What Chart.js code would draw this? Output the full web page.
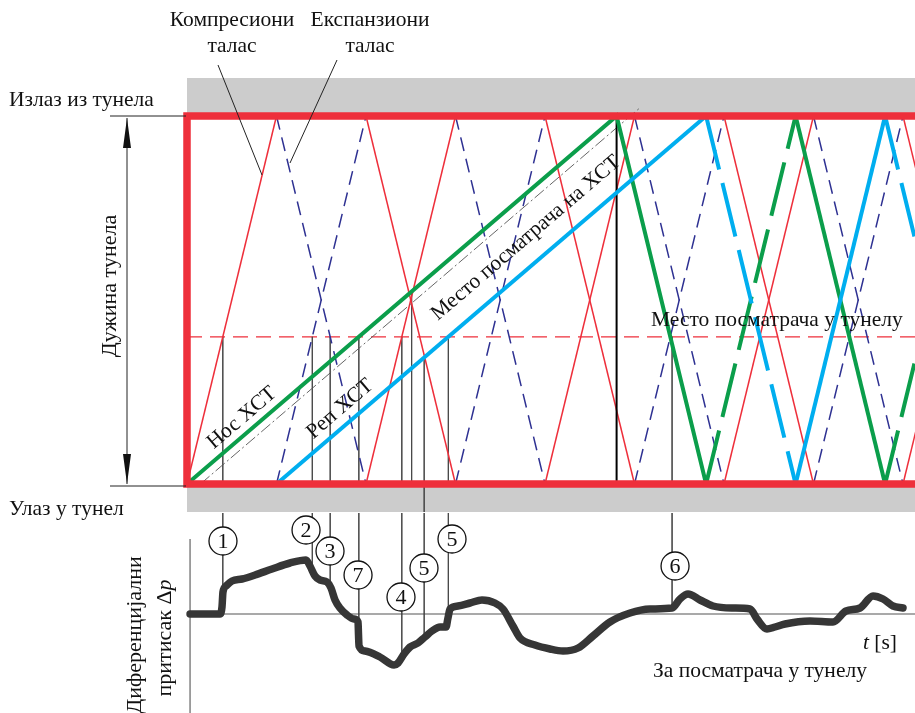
<!DOCTYPE html>
<html>
<head>
<meta charset="utf-8">
<script src="https://cdn.jsdelivr.net/npm/chart.js@4.4.1/dist/chart.umd.min.js"></script>
<style>
  html, body { margin: 0; padding: 0; background: #fff; }
  canvas { display: block; }
</style>
</head>
<body>
<canvas id="waveChart" width="915" height="713"></canvas>
<script>
// =====================================================
//  Wave diagram in a tunnel + pressure at an observer
//  time in units of L/c, position as fraction of tunnel length
// =====================================================

// ── Pressure waves (zig-zag between entrance 0 and exit 1) ──
const noseWaveTimes = [0, 1, 2, 3, 4, 5, 6, 7, 8, 9];
const noseWavePos   = [0, 1, 0, 1, 0, 1, 0, 1, 0, 1];   // starts as compression
const tailWaveTimes = [1, 2, 3, 4, 5, 6, 7, 8, 9];
const tailWavePos   = [0, 1, 0, 1, 0, 1, 0, 1, 0];      // starts as expansion

// ── Train nose / tail ──────────────────────────
const noseTimes = [0, 4.8, 5.8, 6.8, 7.8, 8.8];
const nosePos   = [0, 1, 0, 1, 0, 1];
const noseDashed = [false, false, true, false, true];
const tailTimes = [1, 5.8, 6.8, 7.8, 8.8];
const tailPos   = [0, 1, 0, 1, 0];
const tailDashed = [false, true, false, true];
const trainObserverTimes = [0.15, 5.05];
const trainObserverPos   = [0, 1.02];
const noseExitTime = 4.8;
const tunnelObserverPos = 0.4;

// ── Differential pressure at the tunnel observer ──
const pressureTimes = [0.034, 0.369, 0.391, 0.402, 0.436, 0.503, 0.615, 0.760, 0.950, 1.151,
  1.330, 1.374, 1.430, 1.486, 1.564, 1.609, 1.654, 1.709, 1.788, 1.866,
  1.911, 1.916, 1.922, 1.989, 2.156, 2.313, 2.358, 2.425, 2.492, 2.581,
  2.659, 2.737, 2.827, 2.894, 2.916, 2.939, 3.028, 3.162, 3.296, 3.441,
  3.531, 3.642, 3.721, 3.888, 4.056, 4.201, 4.369, 4.536, 4.726, 4.950,
  5.173, 5.419, 5.508, 5.598, 5.732, 5.877, 6.101, 6.291, 6.369, 6.480,
  6.570, 6.682, 6.961, 7.218, 7.363, 7.520, 7.665, 7.777, 7.888, 8.000];
const pressureValues = [0, 0, 0.35, 1.1, 1.4, 1.65, 1.75, 1.95, 2.25, 2.55,
  2.7, 2.4, 1.9, 1.7, 1.6, 1.3, 0.7, 0.3, -0.05, -0.25,
  -0.4, -1.0, -1.6, -1.85, -2.15, -2.55, -2.45, -2.0, -1.65, -1.45,
  -1.15, -0.85, -0.65, -0.65, -0.2, 0.25, 0.4, 0.55, 0.7, 0.55,
  0.25, -0.6, -1.2, -1.55, -1.75, -1.85, -1.7, -1.1, -0.4, 0.05,
  0.25, 0.3, 0.75, 1.0, 0.7, 0.4, 0.3, 0.25, -0.25, -0.75,
  -0.65, -0.5, -0.35, -0.4, 0.15, 0.3, 0.9, 0.75, 0.4, 0.3];

// ── Numbered events ────────────────────────────
const eventLabels      = ['1', '2', '3', '7', '4', '5', '5', '6'];
const eventTimes       = [0.40, 1.40, 1.60, 1.92, 2.40, 2.65, 2.92, 5.42];
const eventGuideTop    = [0.4, 0.4, 0.4, 0.4, 0.4, 0.345, 0.4, 0.4];
const eventGuideBottom = [0, 0, 0, 0, 0, -0.076, 0, 0];
const eventCircleTimes = [0.402, 1.330, 1.598, 1.911, 2.391, 2.648, 2.961, 5.453];
const eventCircleLevel = [3.65, 4.2, 3.15, 1.95, 0.85, 2.3, 3.75, 2.4];
const extraGuideTime = 2.51;
const extraGuideTop = 0.52;

const RED = '#ee2f3b';
const BLUE = '#2e3192';
const GREEN = '#0b9e4b';
const CYAN = '#00aeef';
const serif = '"Liberation Serif", "Times New Roman", serif';
const FS = 21.5;

const pts = (xs, ys) => xs.map((x, i) => ({ x, y: ys[i] }));

function pressureAt(t) {
  for (let i = 1; i < pressureTimes.length; i++) {
    if (t <= pressureTimes[i]) {
      const t0 = pressureTimes[i - 1], t1 = pressureTimes[i];
      const f = (t - t0) / (t1 - t0);
      return pressureValues[i - 1] + f * (pressureValues[i] - pressureValues[i - 1]);
    }
  }
  return pressureValues[pressureValues.length - 1];
}

const upperGuides = [];
eventTimes.forEach((t, i) => {
  upperGuides.push({ x: t, y: eventGuideTop[i] }, { x: t, y: eventGuideBottom[i] }, { x: t, y: null });
});
upperGuides.push({ x: extraGuideTime, y: extraGuideTop }, { x: extraGuideTime, y: 0 });

const lowerGuides = [];
eventTimes.forEach((t) => {
  lowerGuides.push({ x: t, y: 5.05 }, { x: t, y: pressureAt(t) }, { x: t, y: null });
});

// ── Text, arrows, leaders ──────────────────────
function drawText(ctx, parts, x, y, size, align, angle) {
  ctx.save();
  ctx.translate(x, y);
  ctx.rotate(angle || 0);
  ctx.fillStyle = '#111';
  ctx.textBaseline = 'middle';
  ctx.textAlign = 'left';
  const fonts = parts.map((p) => (p.italic ? 'italic ' : '') + size + 'px ' + serif);
  let total = 0;
  parts.forEach((p, i) => { ctx.font = fonts[i]; total += ctx.measureText(p.t).width; });
  let cx = align === 'left' ? 0 : -total / 2;
  parts.forEach((p, i) => {
    ctx.font = fonts[i];
    ctx.fillText(p.t, cx, 0);
    cx += ctx.measureText(p.t).width;
  });
  ctx.restore();
}

const annotations = {
  id: 'annotations',
  afterDraw(chart) {
    const ctx = chart.ctx;
    ctx.save();
    ctx.strokeStyle = '#222';
    ctx.lineWidth = 1;
    // leader lines
    ctx.beginPath();
    ctx.moveTo(218, 65); ctx.lineTo(262, 175);
    ctx.moveTo(337, 60); ctx.lineTo(290, 163);
    // tunnel length dimension
    ctx.moveTo(110, 116); ctx.lineTo(186, 116);
    ctx.moveTo(110, 486); ctx.lineTo(186, 486);
    ctx.moveTo(127, 118); ctx.lineTo(127, 484);
    ctx.stroke();
    ctx.fillStyle = '#111';
    ctx.beginPath();
    ctx.moveTo(127, 118); ctx.lineTo(123, 148); ctx.lineTo(131, 148); ctx.closePath();
    ctx.moveTo(127, 484); ctx.lineTo(123, 454); ctx.lineTo(131, 454); ctx.closePath();
    ctx.fill();
    ctx.restore();

    const ang = -Math.atan2(368, 430);
    drawText(ctx, [{ t: 'Компресиони' }], 232, 20, FS);
    drawText(ctx, [{ t: 'талас' }], 232, 46, FS);
    drawText(ctx, [{ t: 'Експанзиони' }], 370, 20, FS);
    drawText(ctx, [{ t: 'талас' }], 370, 46, FS);
    drawText(ctx, [{ t: 'Излаз из тунела' }], 9, 100, FS, 'left');
    drawText(ctx, [{ t: 'Улаз у тунел' }], 9, 509, FS, 'left');
    drawText(ctx, [{ t: 'Дужина тунела' }], 110, 286, 22, 'center', -Math.PI / 2);
    drawText(ctx, [{ t: 'Нос ХСТ' }], 242, 418, FS, 'center', ang);
    drawText(ctx, [{ t: 'Реп ХСТ' }], 340, 409, FS, 'center', ang);
    drawText(ctx, [{ t: 'Место посматрача на ХСТ' }], 526, 238, FS, 'center', ang);
    drawText(ctx, [{ t: 'Место посматрача у тунелу' }], 651, 320, FS, 'left');
    drawText(ctx, [{ t: 't', italic: true }, { t: ' [s]' }], 880, 643, FS);
    drawText(ctx, [{ t: 'За посматрача у тунелу' }], 760, 671, FS);
    drawText(ctx, [{ t: 'Диференцијални' }], 135, 635, 22, 'center', -Math.PI / 2);
    drawText(ctx, [{ t: 'притисак Δ' }, { t: 'p', italic: true }], 165, 638, 22, 'center', -Math.PI / 2);

    // numbers inside the event circles
    const meta = chart.getDatasetMeta(chart.data.datasets.findIndex((d) => d.label === 'events'));
    meta.data.forEach((el, i) => {
      drawText(ctx, [{ t: eventLabels[i] }], el.x, el.y + 1, 22);
    });
  },
};

// ── Chart ──────────────────────────────────────
const line = (extra) => Object.assign({
  showLine: true, pointRadius: 0, fill: false, spanGaps: false,
  borderJoinStyle: 'miter', yAxisID: 'y',
}, extra);

new Chart(document.getElementById('waveChart'), {
  type: 'scatter',
  data: {
    datasets: [
      {
        label: 'events', data: pts(eventCircleTimes, eventCircleLevel), yAxisID: 'yp',
        pointRadius: 14, pointBackgroundColor: '#fff', pointBorderColor: '#111',
        pointBorderWidth: 1.3, showLine: false, order: 0,
      },
      line({
        label: 'Δp', data: pts(pressureTimes, pressureValues), yAxisID: 'yp',
        borderColor: '#363636', borderWidth: 7.5, cubicInterpolationMode: 'monotone',
        borderCapStyle: 'round', borderJoinStyle: 'round', order: 1,
      }),
      line({
        label: 'tunnel', data: [{ x: 8.4, y: 1 }, { x: 0, y: 1 }, { x: 0, y: 0 }, { x: 8.4, y: 0 }],
        borderColor: RED, borderWidth: 7.5, order: 2,
      }),
      line({
        label: 'tail', data: pts(tailTimes, tailPos), borderColor: CYAN, borderWidth: 4, order: 3,
        segment: { borderDash: (c) => (tailDashed[c.p0DataIndex] ? [55, 14] : undefined) },
      }),
      line({
        label: 'nose', data: pts(noseTimes, nosePos), borderColor: GREEN, borderWidth: 4, order: 4,
        segment: { borderDash: (c) => (noseDashed[c.p0DataIndex] ? [55, 14] : undefined) },
      }),
      line({
        label: 'nose exit', data: [{ x: noseExitTime, y: 0 }, { x: noseExitTime, y: 1 }],
        borderColor: '#000', borderWidth: 2, order: 5,
      }),
      line({
        label: 'observer on train', data: pts(trainObserverTimes, trainObserverPos),
        borderColor: '#555', borderWidth: 0.9, borderDash: [12, 3, 2, 3], order: 6,
      }),
      line({
        label: 'waves nose', data: pts(noseWaveTimes, noseWavePos), borderColor: RED, borderWidth: 1.5, order: 7,
        segment: {
          borderColor: (c) => (c.p0DataIndex % 2 === 0 ? RED : BLUE),
          borderDash: (c) => (c.p0DataIndex % 2 === 0 ? undefined : [14, 8]),
        },
      }),
      line({
        label: 'waves tail', data: pts(tailWaveTimes, tailWavePos), borderColor: BLUE, borderWidth: 1.5, order: 8,
        segment: {
          borderColor: (c) => (c.p0DataIndex % 2 === 0 ? BLUE : RED),
          borderDash: (c) => (c.p0DataIndex % 2 === 0 ? [14, 8] : undefined),
        },
      }),
      line({
        label: 'guides', data: upperGuides, borderColor: '#444', borderWidth: 0.8, order: 9,
      }),
      line({
        label: 'guides below', data: lowerGuides, yAxisID: 'yp', borderColor: '#444', borderWidth: 0.8, order: 9,
      }),
      line({
        label: 'observer in tunnel', data: [{ x: 0, y: tunnelObserverPos }, { x: 8.4, y: tunnelObserverPos }],
        borderColor: RED, borderWidth: 1.2, borderDash: [15, 8], order: 10,
      }),
      line({
        label: 'zero', data: [{ x: 0.034, y: 0 }, { x: 8.4, y: 0 }], yAxisID: 'yp',
        borderColor: '#555', borderWidth: 1.1, order: 11,
      }),
      line({
        label: 'Δp axis', data: [{ x: 0.034, y: 3.75 }, { x: 0.034, y: -5 }], yAxisID: 'yp',
        borderColor: '#555', borderWidth: 1.1, order: 11,
      }),
      line({
        label: 'exit wall', data: [{ x: 0, y: 1.103 }, { x: 8.4, y: 1.103 }],
        borderWidth: 0, backgroundColor: '#cccccc', fill: { value: 1 }, order: 12,
      }),
      line({
        label: 'entrance wall', data: [{ x: 0, y: -0.076 }, { x: 8.4, y: -0.076 }],
        borderWidth: 0, backgroundColor: '#cccccc', fill: { value: 0 }, order: 12,
      }),
    ],
  },
  options: {
    responsive: false,
    animation: false,
    devicePixelRatio: 1,
    layout: { padding: 0, autoPadding: false },
    plugins: { legend: { display: false }, tooltip: { enabled: false } },
    scales: {
      x: { type: 'linear', min: -2.0894, max: 8.1341, display: false },
      y: { type: 'linear', min: -0.6223, max: 1.3152, display: false },
      yp: { type: 'linear', min: -4.95, max: 30.7, display: false },
    },
  },
  plugins: [annotations],
});
</script>
</body>
</html>
